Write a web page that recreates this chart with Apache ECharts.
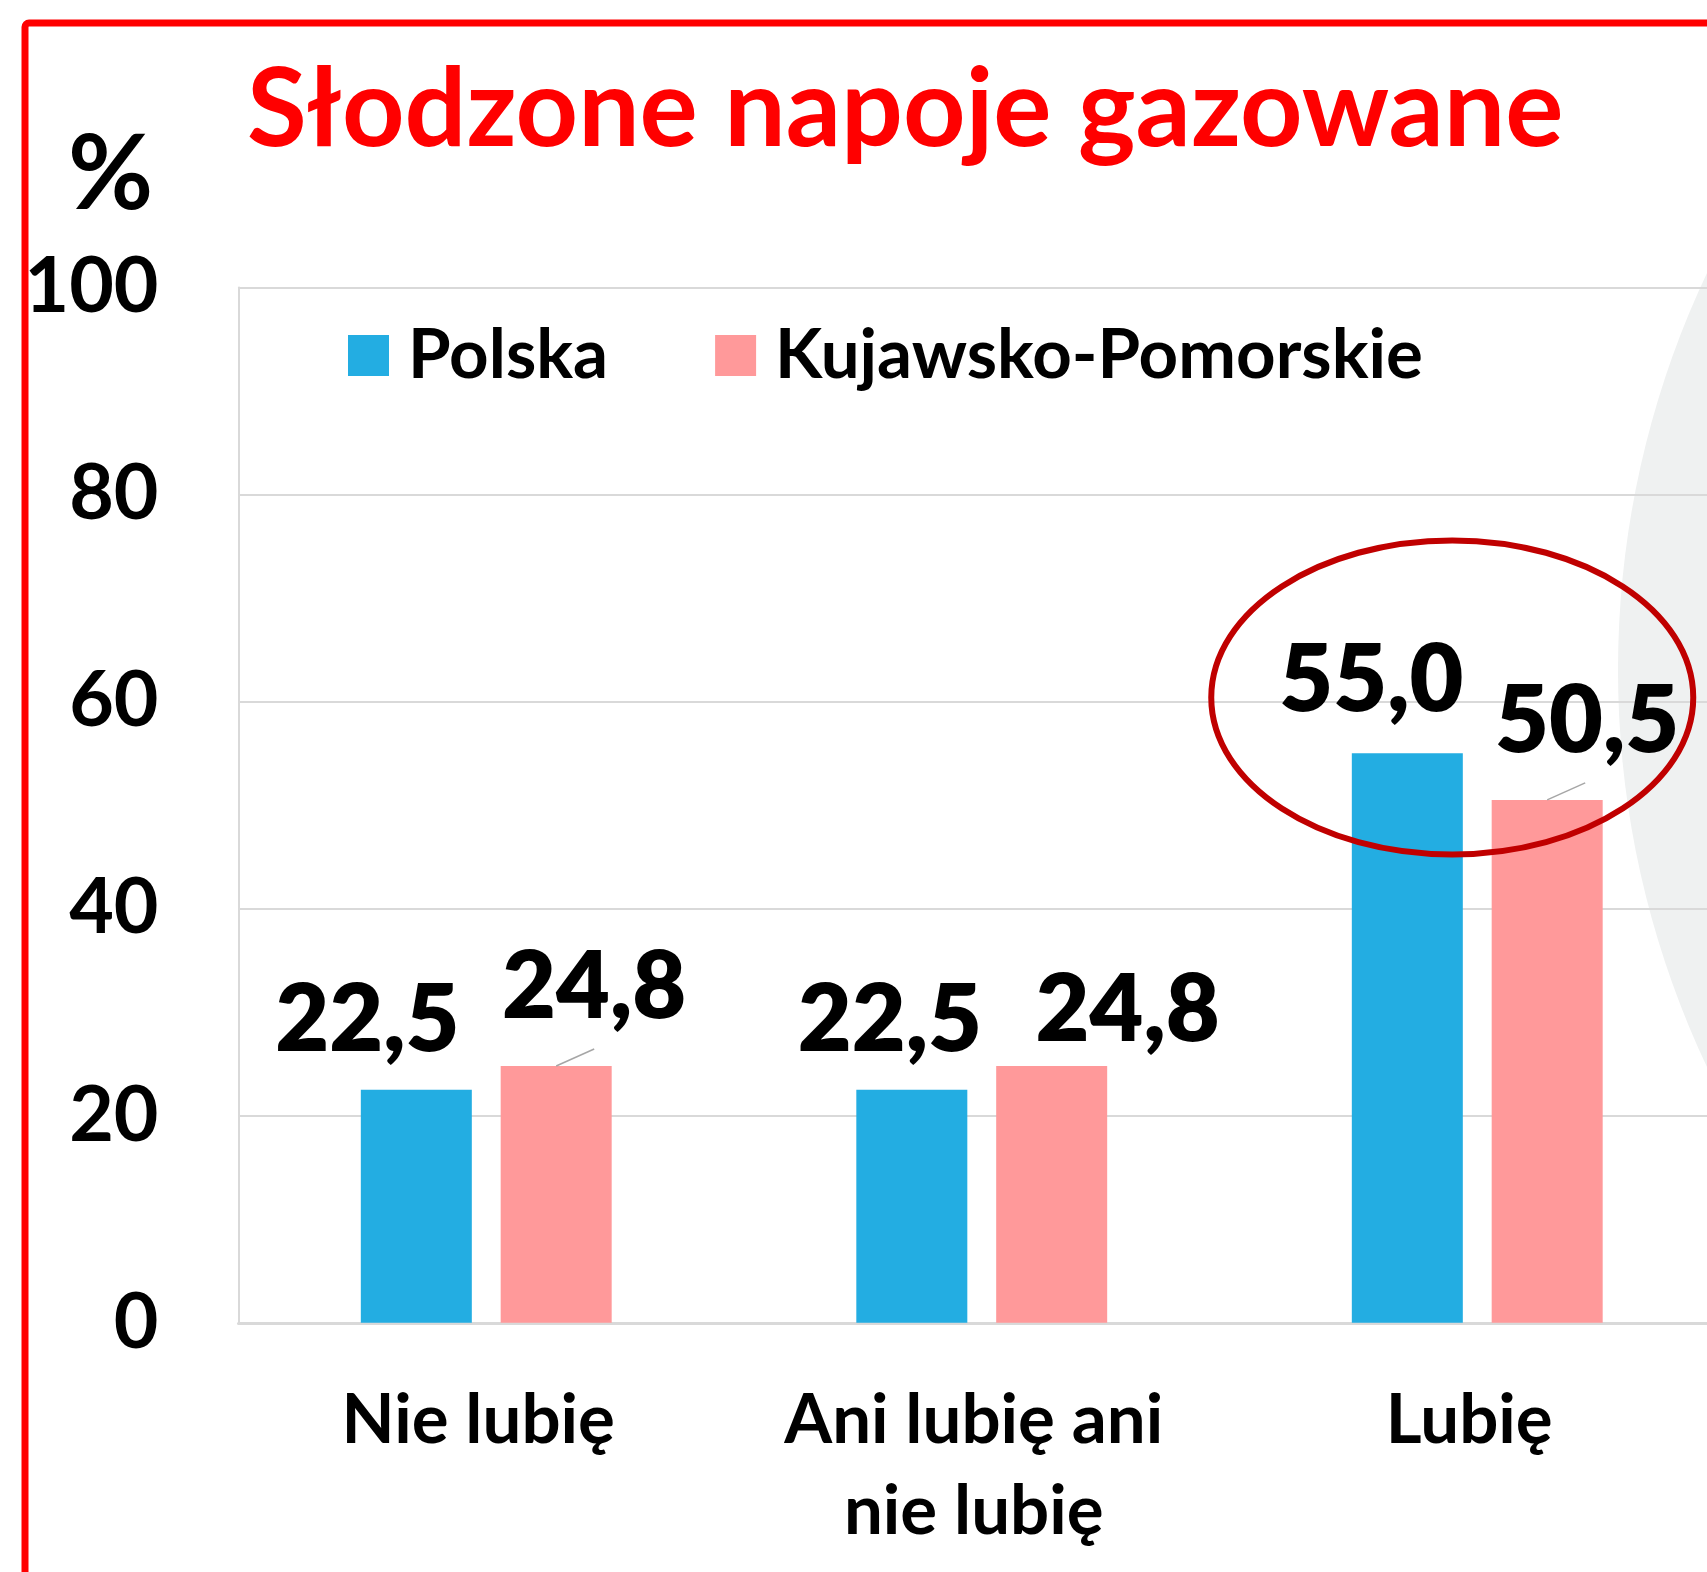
<!DOCTYPE html>
<html>
<head>
<meta charset="utf-8">
<script src="https://cdn.jsdelivr.net/npm/echarts@6/dist/echarts.min.js"></script>
<style>
html, body { margin: 0; padding: 0; background: #fff; }
#chart { width: 1707px; height: 1572px; }
</style>
</head>
<body>
<div id="chart"></div>
<script>
const categories = ["Nie lubię", "Ani lubię ani\nnie lubię", "Lubię"];
const seriesNames = ["Polska", "Kujawsko-Pomorskie"];
const polska = [22.5, 22.5, 55.0];
const kujawskoPomorskie = [24.8, 24.8, 50.5];
const yTicks = [0, 20, 40, 60, 80, 100];

// label nudges in px [dx, dy] from the bar top
const polskaShift = [[-49, -69], [-22, -69], [-36, -72]];
const kujShift = [[38, -78], [76, -55], [40, -78]];
// kuj bars that get a small leader line
const leaderIdx = [0, 2];

const FONT = "Lato";
const BAR_W = 111;
const BAR_GAP = 0.26;

const chart = echarts.init(document.getElementById("chart"));

function fmt(p) {
  return p.value.toFixed(1).replace(".", ",");
}

const barLabel = {
  show: true,
  position: "top",
  distance: 0,
  verticalAlign: "middle",
  fontSize: 93,
  fontWeight: 800,
  fontFamily: FONT,
  color: "#000",
  formatter: fmt
};

chart.setOption({
  backgroundColor: "#fff",
  animation: false,
  title: [
    {
      text: "Słodzone napoje gazowane",
      left: 247,
      top: 56,
      padding: 0,
      textStyle: { color: "#ff0000", fontSize: 109, fontWeight: "bold", fontFamily: FONT }
    },
    {
      text: "%",
      left: 68,
      top: 123,
      padding: 0,
      textStyle: { color: "#000", fontSize: 104, fontWeight: "bold", fontFamily: FONT }
    }
  ],
  legend: {
    data: seriesNames,
    left: 348,
    top: 321,
    padding: 0,
    icon: "rect",
    itemWidth: 41,
    itemHeight: 41,
    itemGap: 107,
    textStyle: {
      fontSize: 69,
      fontWeight: "bold",
      fontFamily: FONT,
      color: "#000",
      padding: [0, 0, 0, 14]
    }
  },
  grid: {
    left: 238.5,
    top: 287.4,
    width: 1486.5,
    height: 1035.4,
    outerBoundsMode: "none"
  },
  xAxis: {
    type: "category",
    data: categories,
    axisLine: { lineStyle: { color: "#d9d9d9", width: 3 } },
    axisTick: { show: false },
    axisLabel: {
      fontSize: 69,
      fontWeight: "bold",
      fontFamily: FONT,
      color: "#000",
      lineHeight: 91,
      margin: 52,
      padding: [0, 16, 0, 0]
    }
  },
  yAxis: {
    type: "value",
    min: yTicks[0],
    max: yTicks[yTicks.length - 1],
    interval: yTicks[1] - yTicks[0],
    axisLine: { show: true, lineStyle: { color: "#d9d9d9", width: 2 } },
    axisTick: { show: false },
    splitLine: { lineStyle: { color: "#d9d9d9", width: 2 } },
    axisLabel: {
      fontSize: 77,
      fontWeight: "bold",
      fontFamily: FONT,
      color: "#000",
      margin: 80
    }
  },
  series: [
    {
      name: seriesNames[0],
      type: "bar",
      barWidth: BAR_W,
      barGap: BAR_GAP * 100 + "%",
      itemStyle: { color: "#23ade2" },
      label: barLabel,
      data: polska.map((v, i) => ({ value: v, label: { offset: polskaShift[i] } }))
    },
    {
      name: seriesNames[1],
      type: "bar",
      barWidth: BAR_W,
      barGap: BAR_GAP * 100 + "%",
      itemStyle: { color: "#ff999a" },
      label: barLabel,
      data: kujawskoPomorskie.map((v, i) => ({ value: v, label: { offset: kujShift[i] } }))
    }
  ]
});

function overlays() {
  const half = (BAR_W + BAR_W * BAR_GAP) / 2;
  const els = [];

  // pale grey shape bleeding in from the right
  els.push({
    type: "circle",
    z: -10,
    shape: { cx: 2548, cy: 670, r: 930 },
    style: { fill: "#eff1f1" },
    silent: true
  });

  // red frame
  els.push({
    type: "rect",
    z: 50,
    shape: { x: 25, y: 23, width: 1800, height: 1700, r: 4 },
    style: { fill: null, stroke: "#ff0000", lineWidth: 7 },
    silent: true
  });

  // leader lines for the shifted labels
  leaderIdx.forEach(i => {
    const p = chart.convertToPixel({ xAxisIndex: 0, yAxisIndex: 0 }, [categories[i], kujawskoPomorskie[i]]);
    const x = p[0] + half;
    els.push({
      type: "line",
      z: 50,
      shape: { x1: x, y1: p[1], x2: x + 38, y2: p[1] - 17 },
      style: { stroke: "#a6a6a6", lineWidth: 1.5 },
      silent: true
    });
  });

  // dark red ring round "Lubię"
  const c = chart.convertToPixel({ xAxisIndex: 0, yAxisIndex: 0 }, [categories[2], 60.4]);
  els.push({
    type: "ellipse",
    z: 60,
    shape: { cx: c[0] - 25, cy: c[1], rx: 241, ry: 157 },
    style: { fill: null, stroke: "#c00000", lineWidth: 6 },
    silent: true
  });

  chart.setOption({ graphic: els });
}

overlays();
</script>
</body>
</html>
